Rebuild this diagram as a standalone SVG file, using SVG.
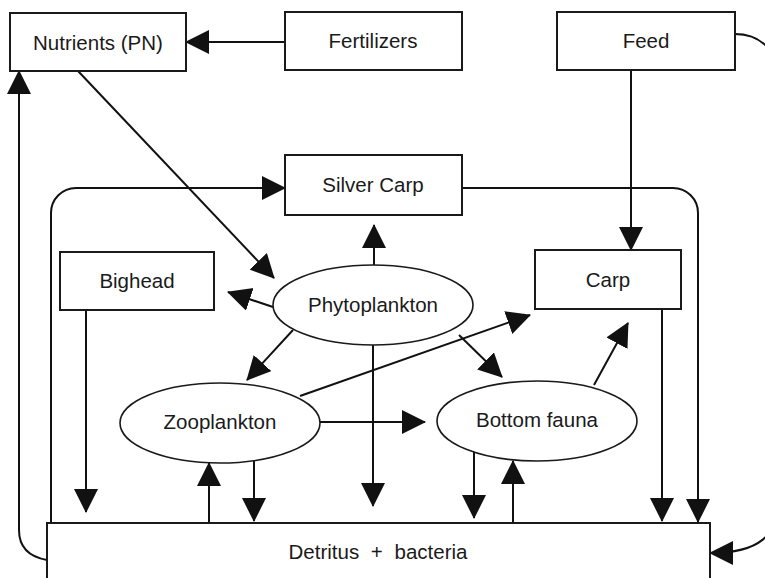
<svg xmlns="http://www.w3.org/2000/svg" width="765" height="578" viewBox="0 0 765 578">
  <style>
    .box { fill: #ffffff; stroke: #1a1a1a; stroke-width: 2; }
    .oval { fill: #ffffff; stroke: #1a1a1a; stroke-width: 1.6; }
    .lbl { font-family: "Liberation Sans", Arial, sans-serif; font-size: 20.5px; fill: #1a1a1a; text-anchor: middle; }
    .flow { fill: none; stroke: #111111; stroke-width: 2; marker-end: url(#head); }
    .plain { fill: none; stroke: #111111; stroke-width: 2; }
  </style>
  <defs>
    <marker id="head" markerUnits="userSpaceOnUse" markerWidth="26" markerHeight="26" refX="23" refY="12" orient="auto">
      <path d="M0,0 L24,12 L0,24 Z" fill="#111111"/>
    </marker>
  </defs>

  <rect width="765" height="578" fill="#ffffff"/>

  <!-- connectors -->
  <g id="connectors">
    <path class="flow" d="M285,42 L186,42"/>
    <path class="flow" d="M631,70 L631,250"/>
    <path class="flow" d="M735,34 C760,34 778,50 778,80 L778,500 C778,535 760,553 710,553"/>
    <path class="flow" d="M51,523 L51,213 A25,25 0 0 1 76,188 L285,188"/>
    <path class="flow" d="M462,188 L673,188 A25,25 0 0 1 698,213 L698,522"/>
    <path class="flow" d="M47,560 C30,557 19,548 19,530 L19,71"/>
    <path class="flow" d="M78,71 L274,278"/>
    <path class="flow" d="M374,265 L374,225"/>
    <path class="flow" d="M273,307 L228,292"/>
    <path class="flow" d="M293,330 L247,380"/>
    <path class="flow" d="M373,345 L373,506"/>
    <path class="flow" d="M459,335 L502,377"/>
    <path class="flow" d="M86,310 L86,512"/>
    <path class="flow" d="M300,396 L530,315"/>
    <path class="flow" d="M320,422 L425,422"/>
    <path class="flow" d="M254,461 L254,521"/>
    <path class="flow" d="M209,523 L209,463"/>
    <path class="flow" d="M474,452 L474,518"/>
    <path class="flow" d="M513,523 L513,461"/>
    <path class="flow" d="M594,385 L628,323"/>
    <path class="flow" d="M662,309 L662,521"/>
  </g>

  <!-- nodes -->
  <g id="nutrients">
    <rect class="box" x="10" y="13" width="176" height="58"/>
    <text class="lbl" x="98" y="50">Nutrients (PN)</text>
  </g>
  <g id="fertilizers">
    <rect class="box" x="285" y="12" width="177" height="58"/>
    <text class="lbl" x="373" y="48">Fertilizers</text>
  </g>
  <g id="feed">
    <rect class="box" x="557" y="12" width="178" height="58"/>
    <text class="lbl" x="646" y="48">Feed</text>
  </g>
  <g id="silver-carp">
    <rect class="box" x="285" y="155" width="177" height="60"/>
    <text class="lbl" x="373" y="192">Silver Carp</text>
  </g>
  <g id="bighead">
    <rect class="box" x="60" y="252" width="154" height="58"/>
    <text class="lbl" x="137" y="288">Bighead</text>
  </g>
  <g id="carp">
    <rect class="box" x="535" y="250" width="146" height="59"/>
    <text class="lbl" x="608" y="287">Carp</text>
  </g>
  <g id="phytoplankton">
    <ellipse class="oval" cx="373" cy="305" rx="100" ry="40"/>
    <text class="lbl" x="373" y="312">Phytoplankton</text>
  </g>
  <g id="zooplankton">
    <ellipse class="oval" cx="220" cy="423" rx="100" ry="40"/>
    <text class="lbl" x="220" y="429">Zooplankton</text>
  </g>
  <g id="bottom-fauna">
    <ellipse class="oval" cx="537" cy="421" rx="100" ry="40"/>
    <text class="lbl" x="537" y="427">Bottom fauna</text>
  </g>
  <g id="detritus">
    <rect class="box" x="47" y="523" width="663" height="80"/>
    <text class="lbl" x="378" y="559" style="word-spacing:6px">Detritus + bacteria</text>
  </g>
</svg>
